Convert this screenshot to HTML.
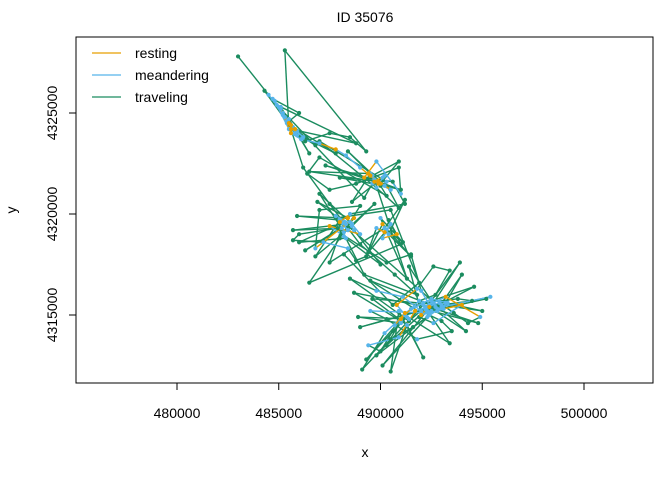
<!DOCTYPE html>
<html><head><meta charset="utf-8"><style>
body{margin:0;background:#fff;}
svg text{font-family:"Liberation Sans",Arial,sans-serif;fill:#000;}
</style></head><body>
<svg id="chart" width="672" height="480" viewBox="0 0 672 480" xmlns="http://www.w3.org/2000/svg">
<text x="365" y="22" font-size="14" text-anchor="middle">ID 35076</text>
<rect x="76" y="37" width="577" height="346" fill="none" stroke="#000" stroke-width="1"/>
<g id="marks"></g>
<g id="xaxis"></g>
<g id="yaxis"></g>
<text x="365" y="457" font-size="14" text-anchor="middle">x</text>
<text x="16" y="210" font-size="14" text-anchor="middle" transform="rotate(-90 16 210)">y</text>
<g>
<line x1="92" y1="53" x2="121" y2="53" stroke="#E69F00" stroke-width="1.3"/>
<text x="135" y="58" font-size="14">resting</text>
<line x1="92" y1="75" x2="121" y2="75" stroke="#56B4E9" stroke-width="1.3"/>
<text x="135" y="80" font-size="14">meandering</text>
<line x1="92" y1="97" x2="121" y2="97" stroke="#1B8C5F" stroke-width="1.3"/>
<text x="135" y="102" font-size="14">traveling</text>
</g>
</svg>
<script>
// track positions in thousands of metres
const xK0 = [483.0,484.5,484.9,485.2,485.5,485.8,485.4,485.9,486.3,487.5,488.5,489.3,485.3,485.5,484.8,485.1,485.6,486.1,487.0,487.8,488.3,489.0,489.5,489.9,490.2,489.7,490.5,489.4,490.0,490.3,487.0,486.4,487.5,488.8,490.9,491.0,489.8,489.2,490.6,491.2,488.5,488.0,488.4,487.8,488.6,489.0,487.5,488.2,487.9,486.0,485.7,487.2,488.4,488.8,489.3,489.8,490.2,490.5,490.1,490.8,490.4,491.0,486.5,488.0,489.0,487.0,486.8,488.7,488.1,490.3,491.5,492.0,492.4,492.0,492.8,493.3,492.5,491.5,491.0,490.7,491.2,492.1,493.8,494.5,495.4,493.0,492.3,491.6,490.5,489.1,490.2,491.9,492.7,493.4,492.6,491.8,490.8,491.3,490.6,490.0,489.4,490.9,491.7,492.9,493.6,494.3,494.9,493.2,492.2,491.4,488.5,489.8,491.1,492.0,493.0,493.5,491.8,490.3,489.5,492.4,493.1,494.0,492.6,491.9];
const yK0 = [4327.8,4325.9,4325.4,4324.9,4324.5,4324.2,4324.6,4323.9,4323.6,4324.0,4323.8,4323.1,4328.1,4324.2,4325.6,4325.2,4324.0,4323.7,4323.5,4323.2,4322.9,4322.3,4321.9,4321.5,4321.9,4321.6,4321.2,4322.0,4321.4,4320.9,4322.8,4322.0,4321.2,4321.5,4322.3,4321.0,4322.6,4321.8,4321.6,4320.5,4320.0,4319.6,4319.2,4319.9,4319.5,4319.0,4319.4,4318.9,4319.3,4319.0,4318.7,4318.6,4318.3,4317.7,4317.9,4319.3,4319.1,4319.5,4318.8,4319.0,4319.7,4318.5,4316.6,4318.8,4320.4,4320.2,4318.3,4319.8,4319.0,4317.6,4318.0,4316.2,4315.5,4315.0,4315.2,4315.6,4315.8,4315.3,4314.8,4314.5,4315.1,4315.6,4315.8,4315.7,4315.9,4315.4,4314.9,4314.4,4313.8,4312.3,4314.1,4315.7,4316.0,4317.2,4317.4,4316.3,4315.5,4314.9,4314.2,4313.2,4313.5,4313.9,4315.2,4315.6,4315.1,4314.6,4314.9,4315.9,4315.4,4314.7,4316.8,4316.2,4315.9,4315.2,4314.7,4314.2,4313.8,4314.8,4315.2,4315.1,4315.3,4315.5,4314.6,4314.9];
const states0 = "TMMMRRMMTTTTTMMMRMMRMMRRMRMRTTTTTTTMMRTTMRMMMMRMTTTMMTTMRMMRTTTTTTMRTTTMMRMMMMRMRMTTMMMTTTMMTTTMRMTTMMRMTTMRMTTMMMTTMTMMMRM";
const xK1 = [
492.3,495.2,492.5,494.8,492.1,489.8,492.4,490.1,492.6,493.9,
492.2,489.0,492.7,489.5,492.0,491.4,492.5,494.6,492.3,493.4,
491.2,489.3,491.0,488.9,491.4,490.5,490.9,492.1,491.3,489.6,
493.0,495.0,493.2,494.0,492.8,488.7,491.0,490.3,492.4,494.2,
488.3,485.7,488.1,486.3,488.5,487.0,488.2,489.7,488.6,486.8,
488.0,485.9,488.4,486.9,488.7,490.0,488.3,486.0,488.2,487.5,
490.2,491.2,490.4,491.5,490.1,489.4,490.3,491.1,490.0,491.3,
489.7,487.3,490.0,490.9,489.6,488.4,490.2,491.0,489.9,486.5,
489.5,488.6,490.1,490.9,489.8,487.0,490.3,488.0,489.6,489.2,
485.0,485.3,485.6,485.9,486.2,486.8,485.7,485.2,484.7,486.0,
485.4,487.8,485.8,484.3,485.5,486.5,485.1,488.8,485.6,486.2,
487.5,489.0,490.7,491.8,489.2,487.8,490.5,491.9,490.6,488.2];
const yK1 = [
4315.4,4315.8,4315.2,4314.6,4315.5,4313.0,4315.0,4312.5,4315.6,4317.6,
4315.3,4314.4,4315.4,4316.7,4315.1,4317.4,4315.7,4316.4,4315.2,4313.6,
4315.0,4312.8,4314.6,4314.9,4314.8,4312.2,4315.2,4312.9,4314.5,4315.8,
4315.5,4315.2,4315.6,4317.0,4315.3,4316.1,4314.7,4313.5,4315.4,4314.2,
4319.5,4319.2,4319.3,4318.2,4319.6,4321.0,4319.1,4320.5,4319.4,4317.9,
4319.7,4319.9,4319.8,4320.6,4319.2,4317.5,4318.8,4318.6,4319.6,4317.6,
4319.3,4320.7,4319.0,4317.9,4319.5,4318.1,4319.2,4318.6,4319.8,4316.8,
4321.7,4322.4,4321.5,4322.6,4321.9,4323.1,4321.4,4321.2,4321.6,4322.1,
4322.0,4320.6,4321.8,4320.3,4321.3,4323.6,4321.6,4321.8,4321.5,4320.8,
4325.3,4324.8,4324.4,4324.1,4323.8,4323.4,4324.3,4325.0,4325.7,4325.0,
4324.5,4323.0,4324.0,4326.1,4324.7,4323.0,4325.3,4323.5,4324.2,4322.3,
4320.5,4318.5,4317.0,4316.0,4317.0,4319.8,4320.2,4316.6,4315.5,4318.0];
const states1 = "MTMTMTMTMT"+"MTMTMTMTMT"+"MTMTMTMTMT"+"MTMTMTMTRT"+
"MTMTMTMTMT"+"MTRTMTMTMT"+"MTMTRTMTMT"+"MTRTMTMTRT"+"MTMTMTMTMT"+
"MMRMMTMMMT"+"MTMTMTMTRT"+"TTTTTTTTTT";
const xTicks = [480000,485000,490000,495000,500000];
const yTicks = [4315000,4320000,4325000];

const xK = xK0.concat(xK1);
const yK = yK0.concat(yK1);
function stateAt(i){return i<xK0.length ? (states0[i]||'T') : states1[i-xK0.length];}
// a step touching a traveling fix is drawn as traveling
function segState(i){
  const a=stateAt(i-1), b=stateAt(i);
  if(a==='T'||b==='T') return 'T';
  return b;
}

const NS="http://www.w3.org/2000/svg";
function sx(v){return 177+(v-480000)/5000*101.75;}
function sy(v){return 113+(4325000-v)/5000*101;}
const col={R:"#E69F00",M:"#56B4E9",T:"#1B8C5F"};
const marks=document.getElementById('marks');
const order=["T","M","R"];
for(const s of order){
  for(let i=1;i<xK.length;i++){
    if(segState(i)!==s) continue;
    const l=document.createElementNS(NS,'line');
    l.setAttribute('x1',sx(xK[i-1]*1000));l.setAttribute('y1',sy(yK[i-1]*1000));
    l.setAttribute('x2',sx(xK[i]*1000));l.setAttribute('y2',sy(yK[i]*1000));
    l.setAttribute('stroke',col[s]);l.setAttribute('stroke-width','1.4');
    
    
    marks.appendChild(l);
  }
}
for(const s of order){
  for(let i=0;i<xK.length;i++){
    if(stateAt(i)!==s) continue;
    const c=document.createElementNS(NS,'circle');
    c.setAttribute('cx',sx(xK[i]*1000));c.setAttribute('cy',sy(yK[i]*1000));
    c.setAttribute('r','2.1');c.setAttribute('fill',col[s]);
    
    
    marks.appendChild(c);
  }
}
const xa=document.getElementById('xaxis');
for(const t of xTicks){
  const x=sx(t);
  const l=document.createElementNS(NS,'line');
  l.setAttribute('x1',x);l.setAttribute('x2',x);l.setAttribute('y1',383);l.setAttribute('y2',390);
  l.setAttribute('stroke','#000');
  
  
  xa.appendChild(l);
  const tx=document.createElementNS(NS,'text');
  tx.setAttribute('x',x);tx.setAttribute('y',418);tx.setAttribute('font-size','14');tx.setAttribute('text-anchor','middle');
  tx.textContent=t;
  
  
  xa.appendChild(tx);
}
const ya=document.getElementById('yaxis');
for(const t of yTicks){
  const y=sy(t);
  const l=document.createElementNS(NS,'line');
  l.setAttribute('x1',69);l.setAttribute('x2',76);l.setAttribute('y1',y);l.setAttribute('y2',y);
  l.setAttribute('stroke','#000');
  
  
  ya.appendChild(l);
  const tx=document.createElementNS(NS,'text');
  tx.setAttribute('x',57);tx.setAttribute('y',y);tx.setAttribute('font-size','14');tx.setAttribute('text-anchor','middle');
  tx.setAttribute('transform','rotate(-90 57 '+y+')');
  tx.textContent=t;
  
  
  ya.appendChild(tx);
}
</script>
</body></html>
